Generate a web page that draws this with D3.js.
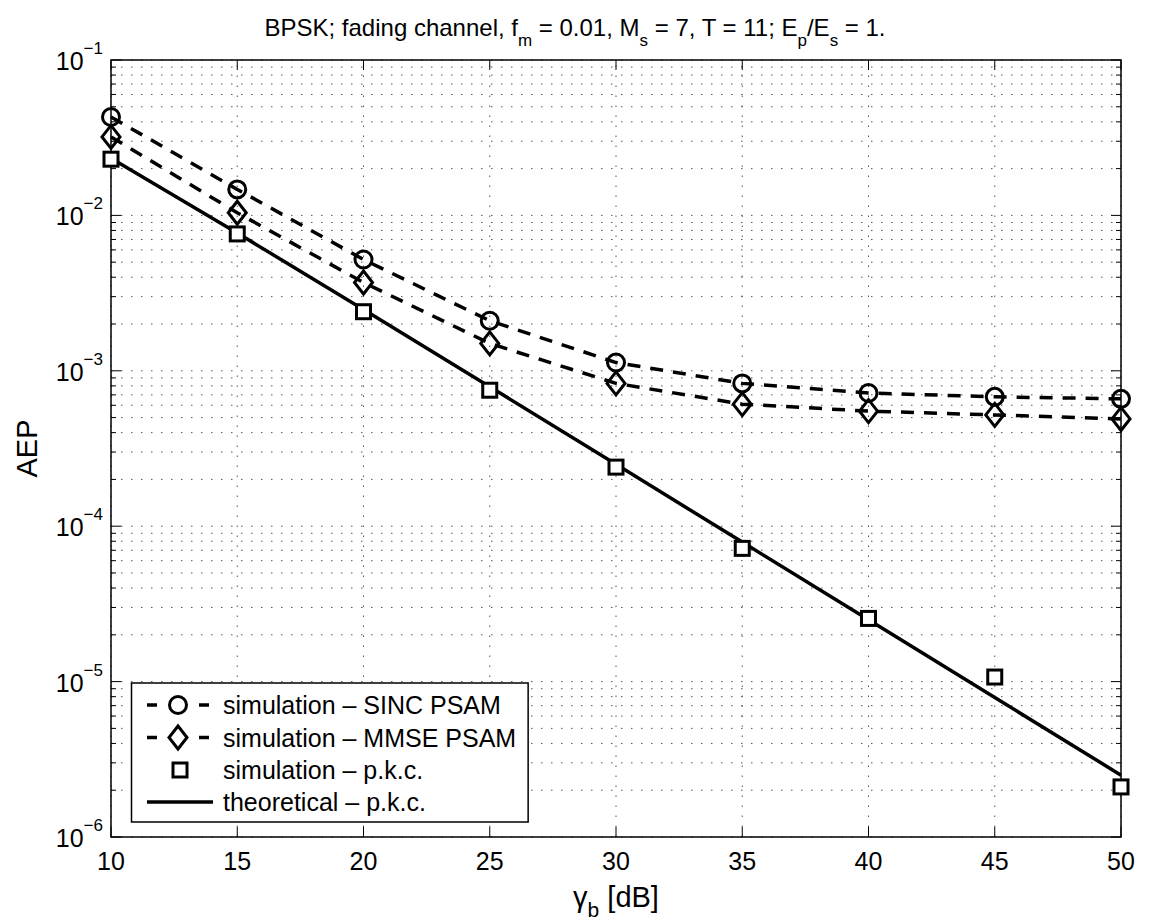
<!DOCTYPE html>
<html><head><meta charset="utf-8">
<script src="https://cdn.jsdelivr.net/npm/d3@7"></script>
<style>
body{margin:0;background:#fff}
svg{display:block}
text{font-family:"Liberation Sans",Arial,Helvetica,sans-serif;fill:#000}
</style>
</head><body>
<svg id="chart" width="1149" height="924"></svg>
<script>
// ---- data ----
const snrDb = [10, 15, 20, 25, 30, 35, 40, 45, 50];
const sincPsam = [0.043, 0.0147, 0.0052, 0.0021, 0.00113, 0.00083, 0.00072, 0.00068, 0.00066];
const mmsePsam = [0.032, 0.0104, 0.0037, 0.0015, 0.00083, 0.00061, 0.00055, 0.00052, 0.00049];
const simPkc = [0.023, 0.0076, 0.0024, 0.00075, 0.00024, 0.000072, 0.0000255, 0.0000107, 0.0000021];
const theoPkc = [0.0233, 0.0077, 0.00248, 0.00079, 0.00025, 0.000079, 0.000025, 0.0000079, 0.0000025];
const xTicks = [10, 15, 20, 25, 30, 35, 40, 45, 50];
const yTickExps = [-1, -2, -3, -4, -5, -6];
const legendLabels = ["simulation \u2013 SINC PSAM", "simulation \u2013 MMSE PSAM", "simulation \u2013 p.k.c.", "theoretical \u2013 p.k.c."];

// ---- layout ----
const W = 1149, H = 924;
const m = {l: 111, t: 60, r: 28, b: 87};
const svg = d3.select("#chart");
const x = d3.scaleLinear().domain([10, 50]).range([m.l, W - m.r]);
const y = d3.scaleLog().domain([1e-6, 1e-1]).range([H - m.b, m.t]);
const x0 = m.l, x1 = W - m.r, y0 = H - m.b, y1 = m.t;

const gridStyle = g => g.attr("stroke", "#555").attr("stroke-width", 1).attr("stroke-dasharray", "1.5,8.5").attr("fill", "none");

// grid
const grid = svg.append("g");
xTicks.forEach(v => grid.append("line").attr("x1", x(v)).attr("x2", x(v)).attr("y1", y0).attr("y2", y1).call(gridStyle));
const yAll = y.ticks();
yAll.forEach(v => grid.append("line").attr("x1", x0).attr("x2", x1).attr("y1", y(v)).attr("y2", y(v)).call(gridStyle));

// ticks
const tk = svg.append("g").attr("stroke", "#000").attr("stroke-width", 1);
xTicks.forEach(v => {
  tk.append("line").attr("x1", x(v)).attr("x2", x(v)).attr("y1", y0).attr("y2", y0 - 10);
  tk.append("line").attr("x1", x(v)).attr("x2", x(v)).attr("y1", y1).attr("y2", y1 + 10);
});
yAll.forEach(v => {
  const major = Math.abs(Math.log10(v) - Math.round(Math.log10(v))) < 1e-9;
  const L = major ? 10 : 5;
  tk.append("line").attr("x1", x0).attr("x2", x0 + L).attr("y1", y(v)).attr("y2", y(v));
  tk.append("line").attr("x1", x1).attr("x2", x1 - L).attr("y1", y(v)).attr("y2", y(v));
});

// box
svg.append("rect").attr("x", x0).attr("y", y1).attr("width", x1 - x0).attr("height", y0 - y1)
  .attr("fill", "none").attr("stroke", "#000").attr("stroke-width", 1.5);

// tick labels
xTicks.forEach(v => svg.append("text").attr("x", x(v)).attr("y", y0 + 33).attr("text-anchor", "middle")
  .attr("font-size", 25).text(v));
yTickExps.forEach(e => {
  const t = svg.append("text").attr("x", 103).attr("y", y(Math.pow(10, e)) + 10).attr("text-anchor", "end").attr("font-size", 25);
  t.append("tspan").text("10");
  t.append("tspan").attr("dy", -16).attr("font-size", 17).text("\u2212" + Math.abs(e));
});

// axis labels
const xl = svg.append("text").attr("x", (x0 + x1) / 2).attr("y", 907).attr("text-anchor", "middle").attr("font-size", 29);
xl.append("tspan").text("\u03B3");
xl.append("tspan").attr("dy", 10).attr("font-size", 21).text("b");
xl.append("tspan").attr("dy", -10).text(" [dB]");

svg.append("text").attr("transform", `translate(37,${(y0 + y1) / 2}) rotate(-90)`).attr("text-anchor", "middle")
  .attr("font-size", 29).text("AEP");

// title
const tt = svg.append("text").attr("x", 575).attr("y", 36).attr("text-anchor", "middle").attr("font-size", 24);
const sub = (txt) => { tt.append("tspan").attr("dy", 10).attr("font-size", 17).text(txt); };
const norm = (txt) => { tt.append("tspan").attr("dy", -10).attr("font-size", 24).text(txt); };
tt.append("tspan").text("BPSK; fading channel, f");
sub("m"); norm(" = 0.01, M");
sub("s"); norm(" = 7, T = 11; E");
sub("p"); norm("/E");
sub("s"); norm(" = 1.");

// series
const pts = arr => snrDb.map((d, i) => [x(d), y(arr[i])]);
const line = d3.line();
svg.append("path").attr("d", line(pts(theoPkc))).attr("fill", "none").attr("stroke", "#000").attr("stroke-width", 3.5);
svg.append("path").attr("d", line(pts(sincPsam))).attr("fill", "none").attr("stroke", "#000").attr("stroke-width", 3.5).attr("stroke-dasharray", "13,10");
svg.append("path").attr("d", line(pts(mmsePsam))).attr("fill", "none").attr("stroke", "#000").attr("stroke-width", 3.5).attr("stroke-dasharray", "13,10");

const circle = (g, cx, cy) => g.append("circle").attr("cx", cx).attr("cy", cy).attr("r", 8.5).attr("fill", "none").attr("stroke", "#000").attr("stroke-width", 3);
const diamond = (g, cx, cy) => g.append("path").attr("d", `M${cx},${cy - 11.5}L${cx + 9},${cy}L${cx},${cy + 11.5}L${cx - 9},${cy}Z`).attr("fill", "none").attr("stroke", "#000").attr("stroke-width", 3);
const square = (g, cx, cy) => g.append("rect").attr("x", cx - 7).attr("y", cy - 7).attr("width", 14).attr("height", 14).attr("fill", "#fff").attr("stroke", "#000").attr("stroke-width", 3);

const mk = svg.append("g");
pts(sincPsam).forEach(p => circle(mk, p[0], p[1]));
pts(mmsePsam).forEach(p => diamond(mk, p[0], p[1]));
pts(simPkc).forEach(p => square(mk, p[0], p[1]));

// legend
const lg = svg.append("g");
const lbox = lg.append("rect").attr("x", 131.5).attr("y", 683).attr("height", 139).attr("fill", "#fff").attr("stroke", "#000").attr("stroke-width", 1.5);
const rows = [705, 737.5, 770, 802];
let maxW = 0;
legendLabels.forEach((s, i) => {
  const t = lg.append("text").attr("x", 223).attr("y", rows[i] + 9).attr("font-size", 25).text(s);
  maxW = Math.max(maxW, t.node().getComputedTextLength());
});
lbox.attr("width", 223 + maxW + 12 - 131.5);
[0, 1].forEach(i => lg.append("line").attr("x1", 147).attr("x2", 209).attr("y1", rows[i]).attr("y2", rows[i])
  .attr("stroke", "#000").attr("stroke-width", 3.5).attr("stroke-dasharray", "10,42"));
circle(lg, 178, rows[0]);
diamond(lg, 178, rows[1]);
square(lg, 180, rows[2]);
lg.append("line").attr("x1", 147).attr("x2", 213).attr("y1", rows[3]).attr("y2", rows[3]).attr("stroke", "#000").attr("stroke-width", 3.5);
</script>
</body></html>
